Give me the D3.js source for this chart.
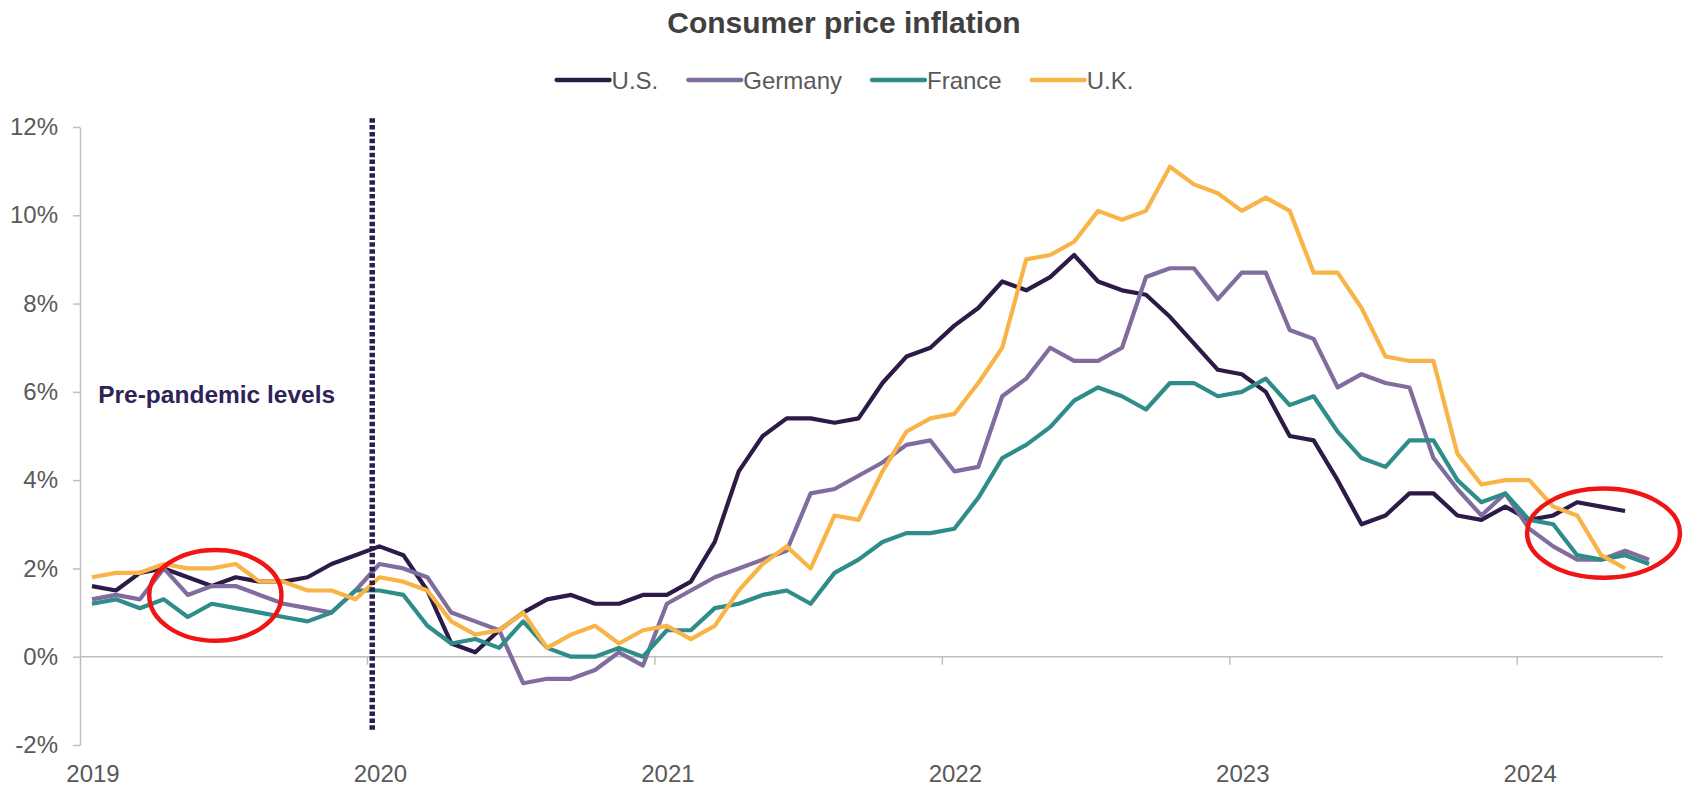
<!DOCTYPE html>
<html>
<head>
<meta charset="utf-8">
<script src="https://cdn.jsdelivr.net/npm/d3@7"></script>
<style>
  html, body { margin: 0; padding: 0; background: #ffffff; }
  svg { display: block; }
  text { font-family: "Liberation Sans", Arial, Helvetica, sans-serif; }
</style>
</head>
<body>
<svg id="chart" width="1688" height="788"></svg>
<script>
// ---------------- data ----------------
const title = "Consumer price inflation";
const yearLabels = ["2019", "2020", "2021", "2022", "2023", "2024"];
const yTicks = [-2, 0, 2, 4, 6, 8, 10, 12];
const seriesNames = ["U.S.", "Germany", "France", "U.K."];
const seriesColors = ["#2c1a47", "#806c9e", "#2e8c89", "#f9b448"];

// monthly categories Jan 2019 .. Jun 2024
const fmtMonth = d3.timeFormat("%Y-%m");
const months = d3.timeMonth.range(new Date(2019, 0, 1), new Date(2024, 6, 1)).map(fmtMonth);

const usValues = [
  1.6, 1.5, 1.9, 2.0, 1.8, 1.6, 1.8, 1.7, 1.7, 1.8, 2.1, 2.3,
  2.5, 2.3, 1.5, 0.3, 0.1, 0.6, 1.0, 1.3, 1.4, 1.2, 1.2, 1.4,
  1.4, 1.7, 2.6, 4.2, 5.0, 5.4, 5.4, 5.3, 5.4, 6.2, 6.8, 7.0,
  7.5, 7.9, 8.5, 8.3, 8.6, 9.1, 8.5, 8.3, 8.2, 7.7, 7.1, 6.5,
  6.4, 6.0, 5.0, 4.9, 4.0, 3.0, 3.2, 3.7, 3.7, 3.2, 3.1, 3.4,
  3.1, 3.2, 3.5, 3.4, 3.3
];
const germanyValues = [
  1.3, 1.4, 1.3, 2.0, 1.4, 1.6, 1.6, 1.4, 1.2, 1.1, 1.0, 1.5,
  2.1, 2.0, 1.8, 1.0, 0.8, 0.6, -0.6, -0.5, -0.5, -0.3, 0.1, -0.2,
  1.2, 1.5, 1.8, 2.0, 2.2, 2.4, 3.7, 3.8, 4.1, 4.4, 4.8, 4.9,
  4.2, 4.3, 5.9, 6.3, 7.0, 6.7, 6.7, 7.0, 8.6, 8.8, 8.8, 8.1,
  8.7, 8.7, 7.4, 7.2, 6.1, 6.4, 6.2, 6.1, 4.5, 3.8, 3.2, 3.7,
  2.9, 2.5, 2.2, 2.2, 2.4, 2.2
];
const franceValues = [
  1.2, 1.3, 1.1, 1.3, 0.9, 1.2, 1.1, 1.0, 0.9, 0.8, 1.0, 1.5,
  1.5, 1.4, 0.7, 0.3, 0.4, 0.2, 0.8, 0.2, 0.0, 0.0, 0.2, 0.0,
  0.6, 0.6, 1.1, 1.2, 1.4, 1.5, 1.2, 1.9, 2.2, 2.6, 2.8, 2.8,
  2.9, 3.6, 4.5, 4.8, 5.2, 5.8, 6.1, 5.9, 5.6, 6.2, 6.2, 5.9,
  6.0, 6.3, 5.7, 5.9, 5.1, 4.5, 4.3, 4.9, 4.9, 4.0, 3.5, 3.7,
  3.1, 3.0, 2.3, 2.2, 2.3, 2.1
];
const ukValues = [
  1.8, 1.9, 1.9, 2.1, 2.0, 2.0, 2.1, 1.7, 1.7, 1.5, 1.5, 1.3,
  1.8, 1.7, 1.5, 0.8, 0.5, 0.6, 1.0, 0.2, 0.5, 0.7, 0.3, 0.6,
  0.7, 0.4, 0.7, 1.5, 2.1, 2.5, 2.0, 3.2, 3.1, 4.2, 5.1, 5.4,
  5.5, 6.2, 7.0, 9.0, 9.1, 9.4, 10.1, 9.9, 10.1, 11.1, 10.7, 10.5,
  10.1, 10.4, 10.1, 8.7, 8.7, 7.9, 6.8, 6.7, 6.7, 4.6, 3.9, 4.0,
  4.0, 3.4, 3.2, 2.3, 2.0
];

// annotations (in data units)
const pandemicMonth = "2020-01";
const annotationText = "Pre-pandemic levels";
const circles = [
  { month: 5.15, value: 1.39, rxMonths: 2.76, ryValue: 1.03 },
  { month: 63.1, value: 2.80, rxMonths: 3.19, ryValue: 1.01 }
];

const seriesValues = [usValues, germanyValues, franceValues, ukValues];
const series = seriesNames.map((name, k) => ({ name, color: seriesColors[k], values: seriesValues[k] }));

// ---------------- layout ----------------
const svg = d3.select("#chart");
const W = 1688;
const x = d3.scaleBand().domain(months).range([80, 1661]).paddingInner(0).paddingOuter(0);
const bw = x.bandwidth();
const xc = m => x(m) + bw / 2;
const xi = i => x.range()[0] + (i + 0.5) * bw;
const y = d3.scaleLinear().domain([-2, 12]).range([745, 127]);

const axisColor = "#bfbfbf";
const labelColor = "#595959";

// title
svg.append("text")
  .attr("x", W / 2).attr("y", 33)
  .attr("text-anchor", "middle")
  .attr("font-size", 30).attr("font-weight", "bold")
  .attr("fill", "#404040")
  .text(title);

// legend
const legend = svg.append("g");
let lx = 0;
const items = [];
series.forEach(s => {
  const g = legend.append("g");
  g.append("line").attr("x1", 0).attr("x2", 53).attr("y1", 80).attr("y2", 80)
    .attr("stroke", s.color).attr("stroke-width", 4.3).attr("stroke-linecap", "round");
  const t = g.append("text").attr("x", 55).attr("y", 88.5)
    .attr("font-size", 24).attr("fill", labelColor).text(s.name);
  const w = 55 + t.node().getComputedTextLength();
  items.push({ g, w });
});
const gap = 30;
const total = d3.sum(items, d => d.w) + gap * (items.length - 1);
lx = W / 2 + 1 - total / 2;
items.forEach(it => { it.g.attr("transform", `translate(${lx},0)`); lx += it.w + gap; });

// y axis
const yAxis = d3.axisLeft(y).tickValues(yTicks).tickSize(7).tickSizeOuter(0).tickPadding(15)
  .tickFormat(d => d + "%");
const gy = svg.append("g").attr("transform", "translate(80,0)").call(yAxis);
gy.select(".domain").attr("stroke", axisColor).attr("stroke-width", 1.5);
gy.selectAll(".tick line").attr("stroke", axisColor).attr("stroke-width", 1.5);
gy.selectAll(".tick text").attr("font-size", 24).attr("fill", labelColor)
  .attr("font-family", "'Liberation Sans', Arial, sans-serif");

// x axis (at zero)
const gx = svg.append("g");
gx.append("line").attr("x1", x.range()[0]).attr("x2", x.range()[1] + 2)
  .attr("y1", y(0)).attr("y2", y(0)).attr("stroke", axisColor).attr("stroke-width", 1.5);
const janMonths = yearLabels.map(yr => yr + "-01");
gx.selectAll("line.tk").data(janMonths.slice(1)).enter().append("line").attr("class", "tk")
  .attr("x1", d => x(d)).attr("x2", d => x(d))
  .attr("y1", y(0)).attr("y2", y(0) + 8)
  .attr("stroke", axisColor).attr("stroke-width", 1.5);
gx.selectAll("text.yr").data(yearLabels).enter().append("text").attr("class", "yr")
  .attr("x", d => xc(d + "-01") + 1).attr("y", 782)
  .attr("text-anchor", "middle").attr("font-size", 24).attr("fill", labelColor)
  .text(d => d);

// series lines
const line = d3.line().x((d, i) => xc(months[i])).y(d => y(d));
svg.append("g").selectAll("path").data(series).enter().append("path")
  .attr("d", d => line(d.values))
  .attr("fill", "none")
  .attr("stroke", d => d.color)
  .attr("stroke-width", 4.2)
  .attr("stroke-linejoin", "round")
  .attr("stroke-linecap", "butt");

// pandemic dotted line
svg.append("line")
  .attr("x1", x(pandemicMonth) + bw * 0.2).attr("x2", x(pandemicMonth) + bw * 0.2)
  .attr("y1", y(12.2)).attr("y2", y(-1.7))
  .attr("stroke", "#2d1e4f").attr("stroke-width", 5.5)
  .attr("stroke-dasharray", "4.5,2.4");

// annotation text
svg.append("text")
  .attr("x", x(months[0]) + bw * 0.76).attr("y", y(5.74))
  .attr("font-size", 24.5).attr("font-weight", "bold").attr("fill", "#2e2358")
  .text(annotationText);

// red circles
svg.append("g").selectAll("ellipse").data(circles).enter().append("ellipse")
  .attr("cx", d => xi(d.month)).attr("cy", d => y(d.value))
  .attr("rx", d => d.rxMonths * bw).attr("ry", d => y(0) - y(d.ryValue))
  .attr("fill", "none").attr("stroke", "#f01414").attr("stroke-width", 4.5);
</script>
</body>
</html>
